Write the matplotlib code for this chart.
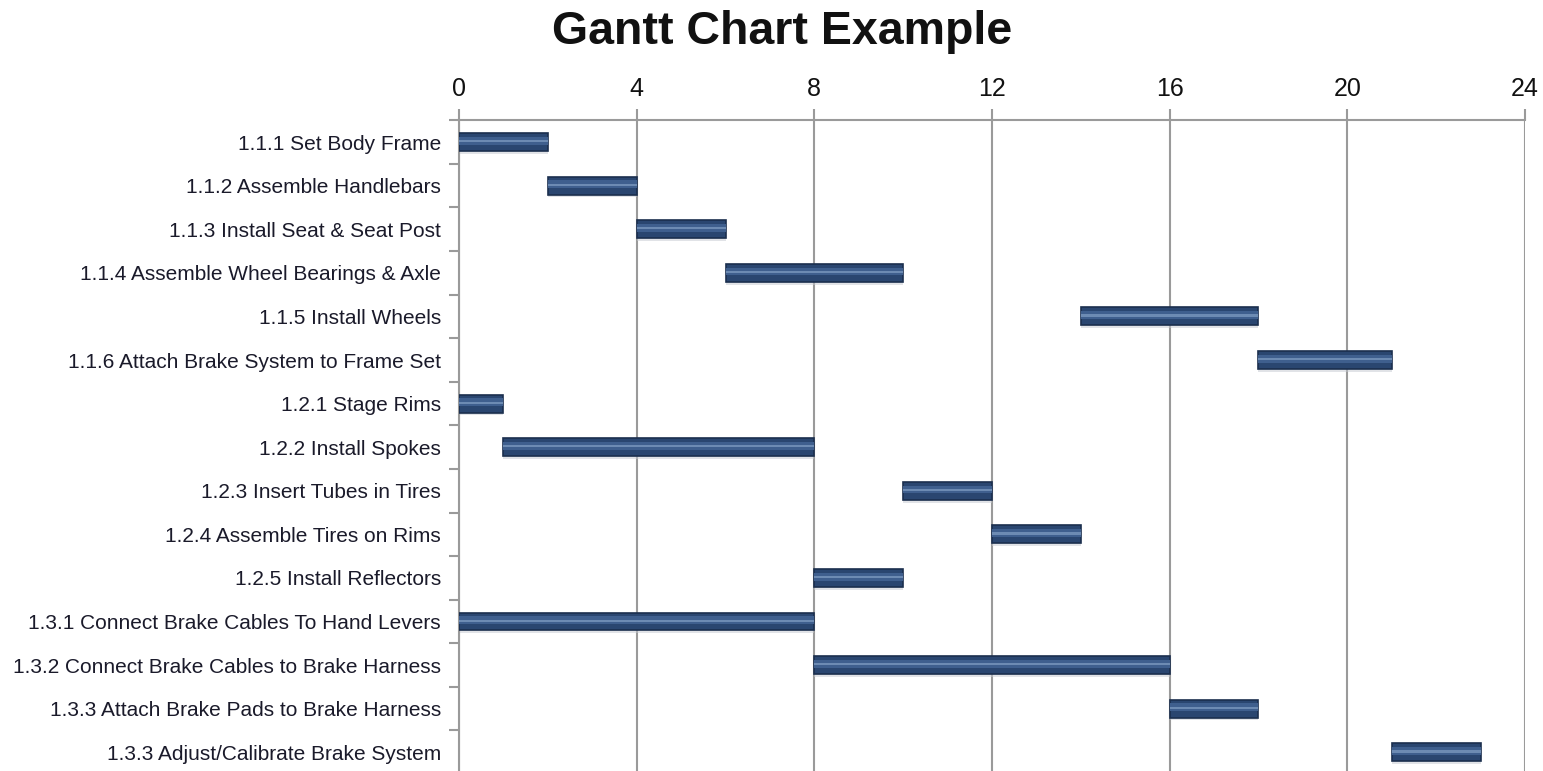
import numpy as np
import matplotlib.pyplot as plt

tasks = ['1.1.1 Set Body Frame', '1.1.2 Assemble Handlebars', '1.1.3 Install Seat & Seat Post',
         '1.1.4 Assemble Wheel Bearings & Axle', '1.1.5 Install Wheels',
         '1.1.6 Attach Brake System to Frame Set', '1.2.1 Stage Rims', '1.2.2 Install Spokes',
         '1.2.3 Insert Tubes in Tires', '1.2.4 Assemble Tires on Rims', '1.2.5 Install Reflectors',
         '1.3.1 Connect Brake Cables To Hand Levers', '1.3.2 Connect Brake Cables to Brake Harness',
         '1.3.3 Attach Brake Pads to Brake Harness', '1.3.3 Adjust/Calibrate Brake System']
start = [0, 2, 4, 6, 14, 18, 0, 1, 10, 12, 8, 0, 8, 16, 21]
duration = [2, 2, 2, 4, 4, 3, 1, 7, 2, 2, 2, 8, 8, 2, 2]
xticks = [0, 4, 8, 12, 16, 20, 24]

plt.rcParams['font.family'] = ['Liberation Sans', 'DejaVu Sans']

fig = plt.figure(figsize=(15.43, 7.71), dpi=100)
ax = fig.add_axes([0.2975, -0.004, 0.6908, 0.848])

y_pos = np.arange(len(tasks))
grey = '#9a9a9a'

# shadow, body, highlight to imitate the bevelled Excel bars
ax.barh(y_pos + 0.05, duration, left=start, height=0.44, color='#c4c8d0', alpha=0.5, zorder=2)
ax.barh(y_pos, duration, left=start, height=0.41, color='#2a4670',
        edgecolor='#1b2f4e', linewidth=1.2, zorder=3)
ax.barh(y_pos - 0.03, duration, left=start, height=0.18, color='#3f5f8e', linewidth=0, zorder=4)
ax.barh(y_pos - 0.02, duration, left=start, height=0.05, color='#6d8bb3', linewidth=0, zorder=4)

ax.set_xlim(0, 24)
ax.set_ylim(len(tasks) - 0.5, -0.5)
ax.set_xticks(xticks)
ax.xaxis.tick_top()
ax.tick_params(axis='x', length=8, width=1.5, color=grey, labelsize=18, pad=6, labelcolor='#111111')
ax.set_yticks(y_pos)
ax.set_yticklabels(tasks)
ax.tick_params(axis='y', which='major', length=0, labelsize=15, pad=13, labelcolor='#1a1a2a')
ax.set_yticks(np.arange(len(tasks) + 1) - 0.5, minor=True)
ax.tick_params(axis='y', which='minor', length=7, width=1.5, color=grey)

ax.grid(axis='x', color=grey, linewidth=1.5, zorder=0)
ax.set_axisbelow(True)
for s in ['right', 'bottom']:
    ax.spines[s].set_visible(False)
for s in ['top', 'left']:
    ax.spines[s].set_color(grey)
    ax.spines[s].set_linewidth(1.5)

fig.text(0.507, 0.958, 'Gantt Chart Example', ha='center', va='center',
         fontsize=33.5, fontweight='bold', color='#111111')

plt.savefig('out.png', dpi=100)
